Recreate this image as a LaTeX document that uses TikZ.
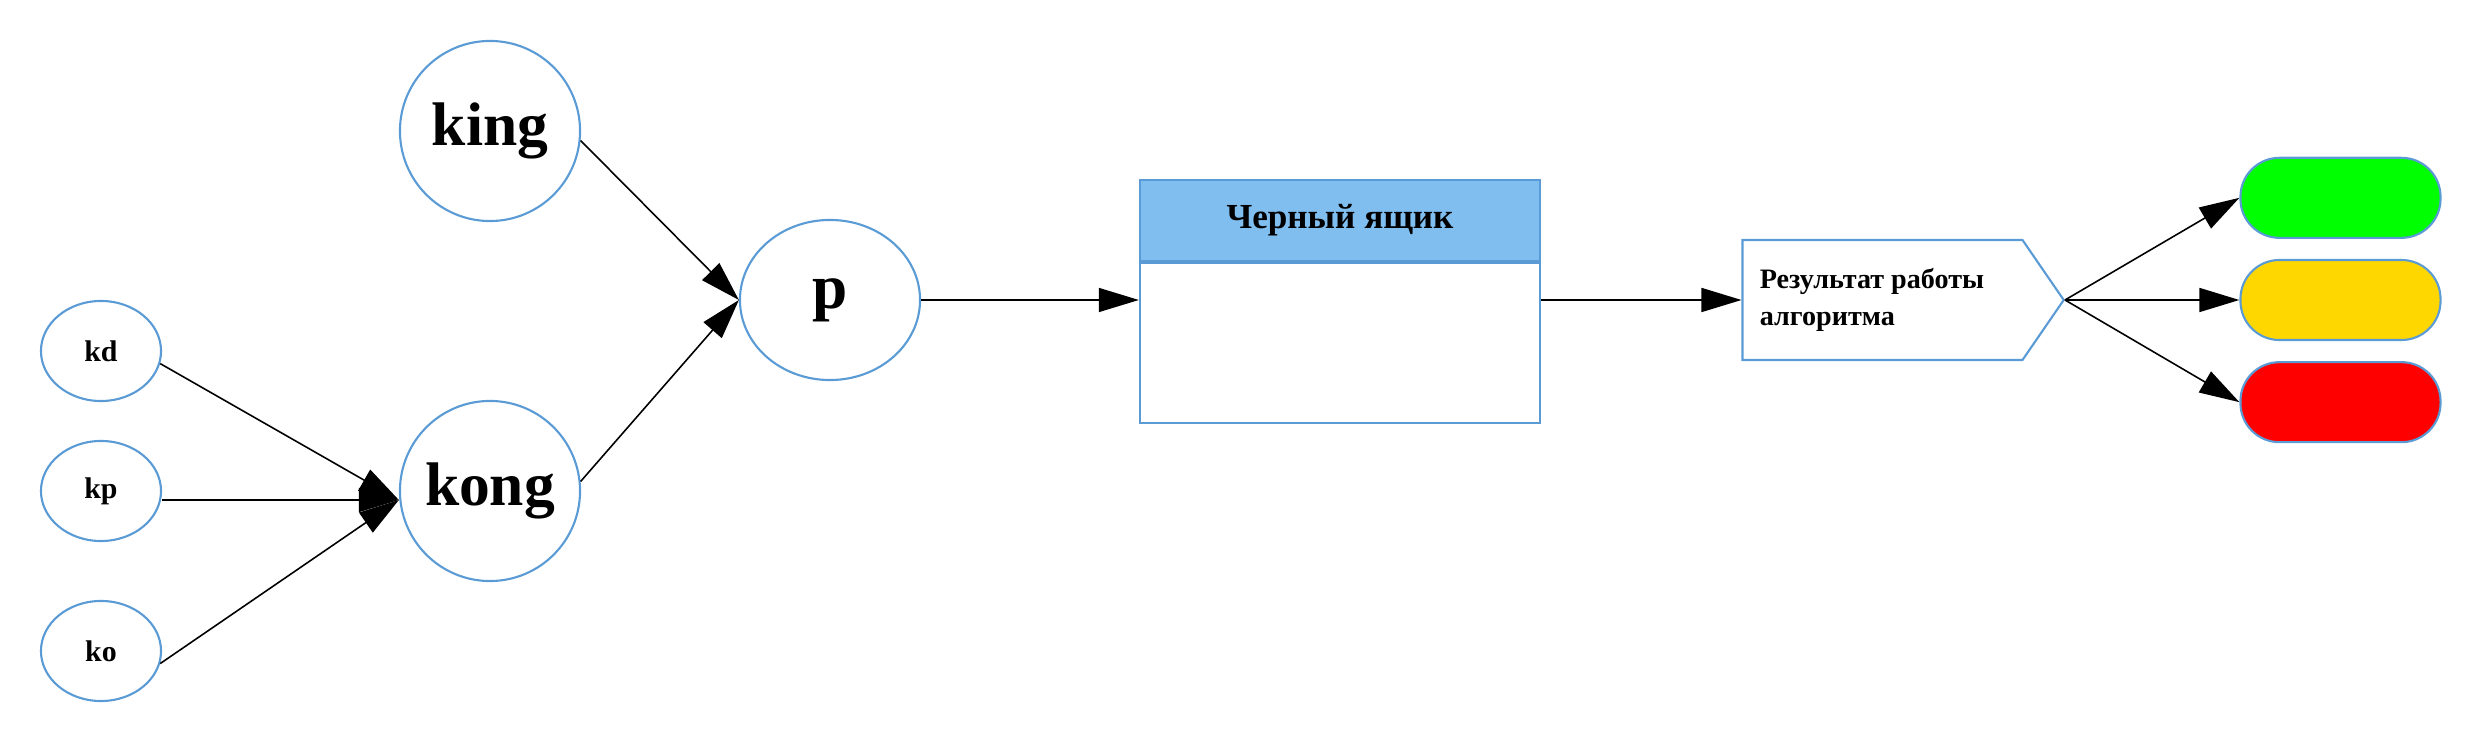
\documentclass[tikz,border=0pt]{standalone}
\usepackage{fontspec}
\setmainfont{Liberation Serif}
\usetikzlibrary{shapes.geometric,shapes.symbols,arrows.meta,positioning}
\definecolor{nodeblue}{RGB}{91,155,213}
\definecolor{headblue}{RGB}{128,190,240}
\definecolor{lampgreen}{RGB}{0,255,0}
\definecolor{lampyellow}{RGB}{255,215,0}
\definecolor{lampred}{RGB}{255,0,0}

\begin{document}
\begin{tikzpicture}[x=0.01cm,y=-0.01cm,
  letternode/.style={ellipse,draw=nodeblue,line width=0.6pt,minimum width=1.2cm,minimum height=1cm,inner sep=0pt,font=\bfseries\fontsize{8.5}{10}\selectfont},
  wordnode/.style={circle,draw=nodeblue,line width=0.6pt,minimum size=1.8cm,inner sep=0pt,font=\bfseries\fontsize{17.5}{20}\selectfont},
  lamp/.style={rectangle,rounded corners=0.39cm,draw=nodeblue,line width=0.6pt,minimum width=2cm,minimum height=0.8cm},
  arr/.style={-{Triangle[length=0.4cm,width=0.24cm]},line width=0.45pt}]
\useasboundingbox (0,0) rectangle (2480,740);

% inputs
\node[letternode] (kd) at (101,351) {kd};
\node[letternode] (kp) at (101,491) {kp};
\node[letternode] (ko) at (101,651) {ko};
\node[wordnode] (king) at (490,131) {king};
\node[wordnode] (kong) at (490,491) {kong};
\node[ellipse,draw=nodeblue,line width=0.6pt,minimum width=1.8cm,minimum height=1.6cm,inner sep=0pt,font=\bfseries\fontsize{18}{20}\selectfont] (p) at (830,300) {p};
\coordinate (kongin) at ([yshift=-0.09cm]kong.west);

% black box
\node[rectangle,draw=nodeblue,line width=0.6pt,fill=headblue,minimum width=4cm,minimum height=0.81cm,font=\bfseries\fontsize{10}{12}\selectfont] (bbhead) at (1340,220.5) {Черный ящик};
\node[rectangle,draw=nodeblue,line width=0.6pt,minimum width=4cm,minimum height=1.6cm,inner sep=0pt,below=0pt of bbhead] (bbbody) {};

% result
\node[signal,signal to=east,signal pointer angle=111,draw=nodeblue,line width=0.6pt,minimum width=3.21cm,minimum height=1.2cm,inner sep=0pt] (res) at (1882.5,300) {};
\node[anchor=west,align=left,font=\bfseries\fontsize{8}{10.5}\selectfont] (restext) at ([xshift=0.06cm]res.west) {Результат работы\\алгоритма};

\node[lamp,fill=lampyellow] (yellow) at (2340.5,300) {};
\node[lamp,fill=lampgreen,above=0.2cm of yellow] (green) {};
\node[lamp,fill=lampred,below=0.2cm of yellow] (red) {};

% connectors
\draw[arr] (kd.-12) -- (kongin);
\draw[arr] (kp.east |- kongin) -- (kongin);
\draw[arr] (ko.-12) -- (kongin);
\draw[arr] (king.-6) -- (p.west);
\draw[arr] (kong.6) -- (p.west);
\draw[arr] (p.east) -- (p.east -| bbbody.west);
\draw[arr] (p.east -| bbbody.east) -- (res.west);
\draw[arr] (res.east) -- (green.west);
\draw[arr] (res.east) -- (yellow.west);
\draw[arr] (res.east) -- (red.west);
\end{tikzpicture}
\end{document}
